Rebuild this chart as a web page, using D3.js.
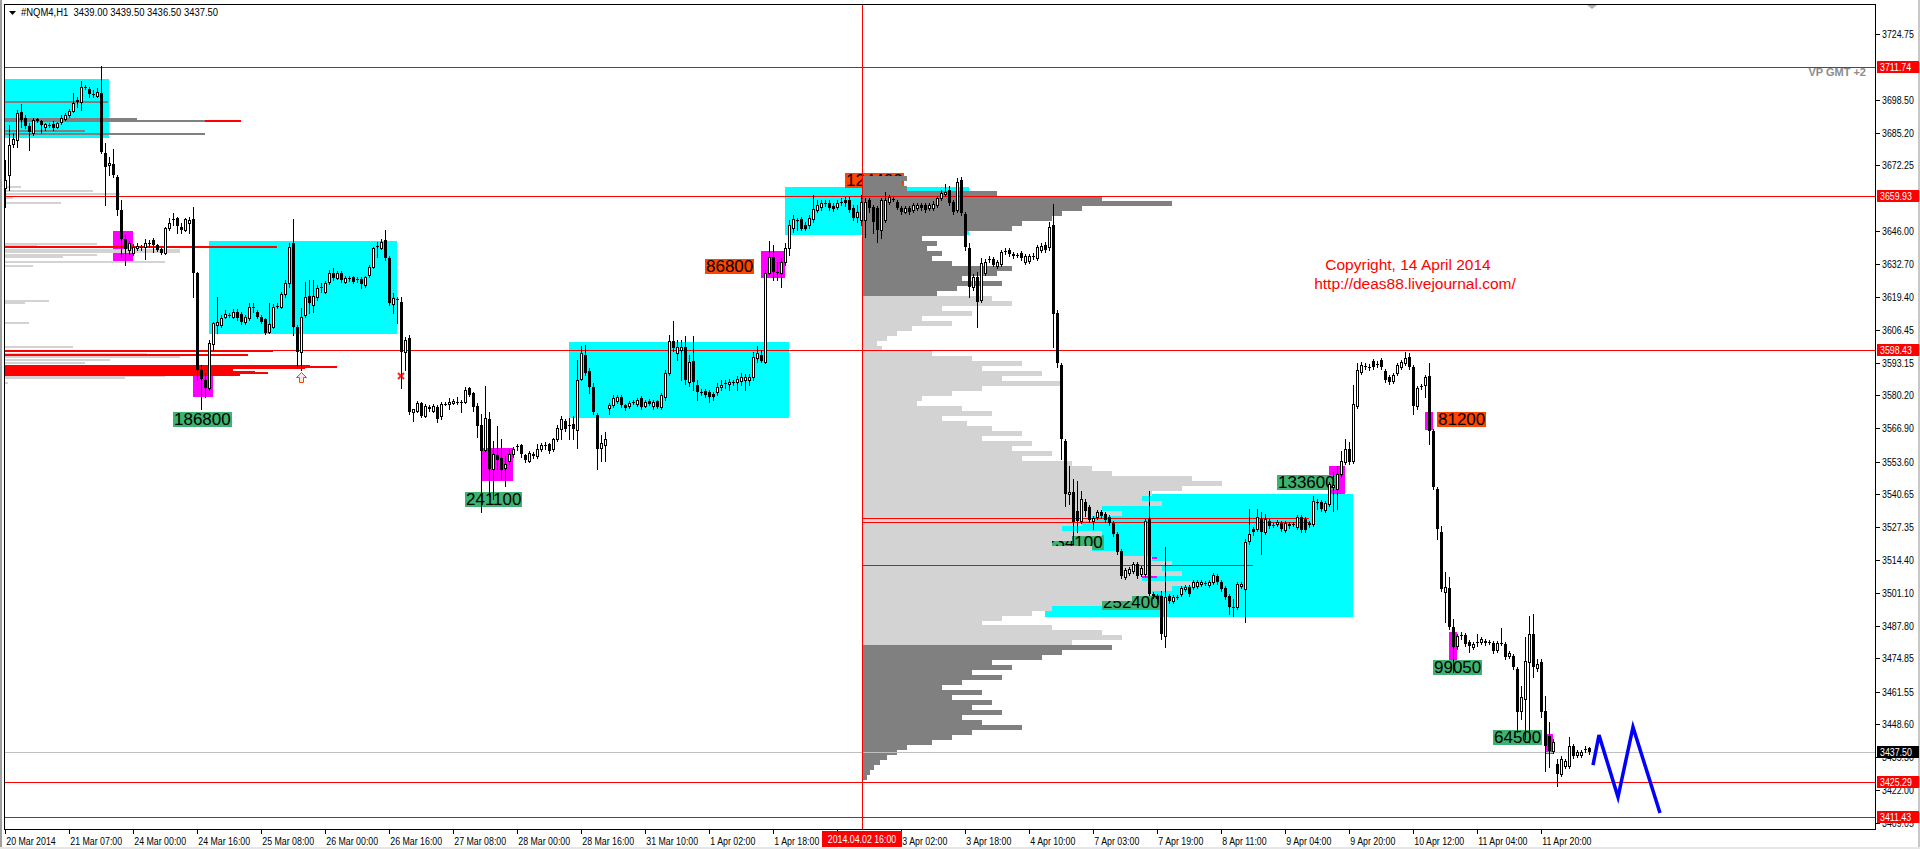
<!doctype html>
<html>
<head>
<meta charset="utf-8">
<title>#NQM4,H1</title>
<style>
  html, body { margin: 0; padding: 0; background: #fff; }
  svg { display: block; }
</style>
</head>
<body>
<div id="vis"></div>
<script src="https://d3js.org/d3.v7.min.js"></script>
<script>
var width = 1920, height = 849;
var frame = { left: 4, top: 4, right: 1875, bottom: 829 };
var textFont = "'Liberation Sans', Arial, sans-serif";
var squeeze = 0.8;

var header = '#NQM4,H1  3439.00 3439.50 3436.50 3437.50';

// hourly candles [open, high, low, close]
var candles = [
[3663.3,3674.5,3655.7,3666.5],[3668.5,3688.5,3662.5,3680.5],[3680.9,3685.3,3679.7,3682.9],[3682.5,3694.5,3679.7,3693.3],
[3693.7,3696.9,3687.7,3690.5],[3691.3,3692.5,3687.3,3688.1],[3688.1,3689.3,3678.5,3685.7],[3685.3,3691.3,3684.5,3690.5],
[3690.9,3691.3,3689.7,3690.1],[3690.1,3690.5,3685.3,3688.5],[3687.7,3689.3,3686.5,3688.9],[3688.5,3689.3,3687.7,3688.5],
[3688.9,3690.1,3686.5,3687.3],[3687.7,3689.7,3687.3,3689.3],[3689.7,3692.5,3688.9,3691.3],[3690.9,3693.3,3690.5,3692.5],
[3692.5,3694.9,3691.7,3694.1],[3694.1,3701.3,3693.7,3697.3],[3698.5,3699.7,3695.7,3697.7],[3697.7,3706.1,3694.5,3703.7],
[3703.7,3704.5,3702.9,3703.3],[3702.9,3703.7,3699.7,3700.9],[3700.9,3702.5,3699.7,3700.9],[3700.1,3703.3,3699.7,3701.7],
[3701.3,3712.1,3677.3,3677.7],[3677.3,3681.3,3656.5,3671.7],[3672.5,3675.7,3668.5,3673.3],[3672.9,3678.9,3667.7,3668.5],
[3667.7,3668.5,3652.5,3654.5],[3654.5,3658.5,3635.7,3642.9],[3642.9,3644.5,3632.5,3638.9],[3638.5,3642.1,3636.9,3641.3],
[3637.3,3640.9,3636.5,3639.7],[3639.3,3641.3,3638.5,3640.1],[3639.7,3640.5,3638.5,3639.7],[3639.7,3642.9,3634.9,3641.3],
[3641.3,3642.5,3639.7,3641.3],[3642.5,3643.3,3637.7,3640.5],[3640.5,3640.9,3638.1,3638.5],[3638.9,3639.3,3636.9,3637.3],
[3637.3,3647.7,3636.9,3647.3],[3647.3,3651.3,3646.5,3649.3],[3650.9,3653.3,3648.5,3650.9],[3651.3,3651.7,3645.3,3648.1],
[3647.7,3649.3,3645.3,3646.5],[3646.5,3651.3,3646.1,3650.9],[3649.3,3651.7,3645.3,3650.5],[3650.9,3655.7,3619.7,3629.3],
[3629.3,3629.7,3586.5,3590.5],[3590.5,3592.5,3574.5,3586.9],[3586.5,3589.3,3579.7,3583.3],[3583.3,3602.5,3582.5,3601.3],
[3600.9,3609.7,3598.5,3609.3],[3608.5,3619.7,3605.3,3609.7],[3608.5,3612.5,3607.7,3611.3],[3611.7,3614.5,3611.3,3612.9],
[3612.5,3613.3,3611.7,3612.5],[3611.7,3614.9,3611.3,3613.7],[3613.7,3614.9,3610.5,3611.3],[3612.9,3613.7,3608.9,3609.7],
[3609.7,3612.5,3608.9,3611.7],[3611.3,3617.3,3610.5,3615.7],[3615.7,3617.3,3613.7,3615.7],[3613.7,3614.5,3611.3,3611.7],
[3611.7,3612.5,3609.3,3609.7],[3610.9,3611.3,3604.9,3605.3],[3605.7,3617.3,3605.3,3608.9],[3607.7,3616.9,3607.3,3615.7],
[3616.1,3617.3,3615.3,3616.1],[3615.7,3621.7,3615.3,3620.9],[3620.9,3626.5,3619.7,3625.3],[3625.3,3641.3,3623.7,3639.7],
[3641.3,3650.9,3604.5,3607.7],[3607.7,3608.5,3591.3,3597.7],[3597.7,3615.3,3590.5,3611.7],[3612.5,3625.7,3611.7,3619.7],
[3620.1,3626.5,3613.3,3617.3],[3616.5,3626.5,3613.7,3620.1],[3619.7,3624.5,3618.5,3623.3],[3623.7,3625.3,3621.7,3623.7],
[3621.7,3626.1,3621.3,3625.3],[3625.7,3630.5,3624.9,3629.3],[3629.3,3631.3,3626.5,3627.3],[3627.3,3630.1,3626.9,3629.3],
[3629.3,3630.1,3625.7,3626.5],[3625.7,3628.1,3625.3,3627.3],[3627.3,3628.1,3626.1,3627.3],[3627.7,3628.1,3625.3,3625.7],
[3626.9,3627.7,3625.7,3626.9],[3626.9,3627.7,3623.3,3624.9],[3624.5,3628.1,3623.7,3627.7],[3628.5,3632.5,3627.7,3631.7],
[3631.7,3639.7,3631.3,3639.3],[3640.1,3641.7,3635.7,3640.1],[3639.3,3642.9,3638.9,3641.7],[3642.5,3646.5,3634.5,3635.3],
[3635.3,3636.1,3616.5,3617.3],[3616.9,3621.3,3613.3,3619.3],[3618.9,3619.7,3609.3,3618.9],[3617.7,3619.7,3583.3,3597.7],
[3597.7,3603.7,3590.5,3602.5],[3603.3,3604.5,3572.5,3573.3],[3573.3,3574.5,3569.7,3574.5],[3573.7,3578.1,3573.3,3577.3],
[3577.3,3577.7,3571.3,3571.7],[3571.7,3576.5,3571.3,3575.7],[3575.3,3576.1,3573.7,3574.5],[3573.7,3576.5,3573.3,3575.7],
[3575.3,3576.1,3569.3,3570.5],[3571.7,3577.7,3570.5,3576.5],[3576.9,3577.7,3576.1,3576.9],[3576.9,3579.3,3574.5,3577.7],
[3577.3,3578.9,3576.5,3578.1],[3577.7,3579.7,3576.5,3577.7],[3577.7,3578.5,3573.3,3577.7],[3577.7,3583.7,3577.3,3582.5],
[3583.3,3583.7,3580.1,3580.5],[3581.3,3581.7,3573.7,3575.3],[3575.7,3577.3,3563.3,3567.7],[3568.1,3572.5,3533.3,3557.7],
[3558.1,3584.1,3557.7,3570.9],[3570.5,3573.3,3539.7,3550.5],[3550.5,3561.7,3538.5,3556.5],[3556.1,3567.7,3550.5,3554.1],
[3554.9,3562.5,3546.5,3550.1],[3550.9,3555.7,3543.7,3552.5],[3553.7,3558.5,3552.5,3556.5],[3556.5,3559.3,3555.3,3558.5],
[3559.7,3560.5,3558.1,3559.7],[3560.1,3560.5,3555.3,3556.5],[3556.1,3556.5,3553.3,3554.1],[3553.7,3557.7,3553.3,3556.9],
[3556.5,3557.3,3554.9,3555.7],[3555.7,3560.5,3554.9,3558.5],[3558.5,3560.9,3557.7,3560.1],[3560.1,3561.3,3558.5,3560.1],
[3560.5,3560.9,3556.9,3557.7],[3558.5,3562.9,3557.7,3562.5],[3562.5,3568.1,3561.7,3566.9],[3566.5,3571.7,3562.5,3570.5],
[3569.7,3570.5,3565.7,3566.5],[3568.1,3570.9,3562.5,3568.1],[3568.5,3571.7,3562.5,3566.5],[3566.1,3594.5,3558.9,3586.5],
[3586.9,3600.1,3586.5,3597.3],[3596.5,3600.5,3588.5,3589.3],[3590.1,3591.3,3581.3,3583.7],[3583.7,3585.3,3572.5,3573.3],
[3572.1,3572.9,3550.5,3558.5],[3558.9,3564.1,3553.7,3560.9],[3560.1,3565.3,3553.7,3562.5],[3574.9,3577.3,3572.5,3576.1],
[3576.1,3580.5,3575.3,3579.3],[3578.1,3580.5,3577.3,3579.7],[3579.7,3580.5,3575.3,3576.1],[3576.1,3576.9,3574.1,3574.9],
[3575.7,3578.1,3574.9,3577.3],[3577.7,3578.5,3576.5,3577.7],[3576.5,3579.3,3575.7,3578.5],[3579.3,3580.1,3574.5,3575.3],
[3575.7,3578.5,3575.3,3577.7],[3578.1,3578.9,3576.1,3576.9],[3575.7,3578.5,3574.5,3577.7],[3578.1,3578.5,3574.9,3575.3],
[3575.3,3581.3,3574.5,3580.5],[3579.7,3590.5,3578.5,3589.3],[3589.3,3604.5,3588.5,3602.1],[3602.1,3610.1,3598.1,3599.3],
[3597.3,3602.5,3594.5,3599.7],[3598.5,3602.5,3586.5,3599.7],[3599.7,3604.1,3584.9,3586.5],[3585.7,3596.5,3584.1,3593.7],
[3594.1,3604.1,3582.5,3585.7],[3584.5,3586.5,3578.5,3581.7],[3581.7,3582.9,3580.5,3581.7],[3582.1,3582.9,3579.7,3580.5],
[3581.7,3582.5,3577.7,3579.7],[3580.9,3581.7,3578.5,3579.7],[3581.7,3585.3,3580.5,3583.7],[3583.7,3586.5,3582.5,3584.5],
[3585.3,3586.5,3583.3,3585.3],[3584.9,3586.9,3582.5,3585.7],[3585.7,3586.5,3584.5,3585.7],[3585.7,3588.1,3582.5,3586.9],
[3586.1,3589.3,3584.5,3587.7],[3586.5,3588.9,3582.5,3587.7],[3586.5,3588.9,3584.5,3587.7],[3587.7,3597.7,3586.5,3595.7],
[3595.3,3600.1,3593.7,3597.3],[3596.5,3598.5,3593.7,3594.1],[3593.7,3630.5,3593.3,3629.3],[3629.3,3642.1,3628.5,3635.7],
[3635.7,3640.5,3626.5,3629.7],[3629.7,3633.7,3626.5,3629.3],[3629.3,3635.3,3623.7,3633.7],[3633.7,3641.3,3632.5,3639.3],
[3639.3,3650.5,3636.5,3648.5],[3647.3,3652.5,3645.7,3650.9],[3650.5,3651.3,3646.5,3650.5],[3650.9,3651.7,3646.5,3646.9],
[3648.5,3649.7,3646.5,3646.9],[3648.5,3652.5,3647.3,3651.3],[3650.9,3660.5,3649.7,3654.9],[3654.5,3658.5,3653.7,3656.5],
[3655.7,3658.5,3654.5,3657.3],[3657.3,3658.5,3656.1,3657.3],[3657.3,3658.5,3654.5,3655.3],[3656.1,3657.3,3654.1,3654.9],
[3655.7,3658.5,3654.9,3657.3],[3657.7,3659.3,3656.5,3657.7],[3658.5,3659.7,3656.1,3657.3],[3658.5,3659.7,3653.7,3654.5],
[3655.3,3656.5,3650.5,3651.3],[3651.7,3656.5,3649.7,3653.7],[3650.5,3660.5,3648.5,3657.7],[3650.5,3659.3,3643.7,3657.7],
[3658.5,3659.3,3653.7,3655.3],[3655.7,3656.5,3645.3,3649.7],[3655.3,3656.1,3641.7,3646.5],[3646.5,3659.3,3643.3,3658.5],
[3650.5,3661.7,3649.7,3658.5],[3657.7,3660.5,3656.9,3659.7],[3658.9,3659.7,3658.1,3658.9],[3657.7,3658.5,3654.9,3655.3],
[3655.3,3656.1,3652.9,3653.7],[3653.7,3656.1,3653.3,3655.3],[3655.3,3656.1,3652.9,3653.7],[3654.5,3657.3,3653.7,3656.5],
[3655.3,3657.3,3654.5,3656.5],[3656.5,3657.3,3654.5,3655.3],[3656.5,3657.3,3653.7,3654.5],[3655.3,3657.3,3654.5,3656.5],
[3655.3,3658.1,3654.5,3656.9],[3656.5,3660.1,3655.7,3659.3],[3659.3,3662.5,3658.5,3661.3],[3660.9,3664.9,3660.1,3661.7],
[3662.5,3664.1,3656.5,3657.3],[3657.7,3658.5,3652.9,3653.7],[3654.5,3667.3,3653.7,3665.7],[3666.5,3667.7,3652.5,3653.3],
[3652.9,3653.7,3638.5,3639.7],[3639.3,3641.3,3619.7,3623.7],[3623.7,3628.9,3622.5,3627.7],[3627.7,3629.7,3607.7,3617.7],
[3618.5,3635.3,3617.7,3633.3],[3629.3,3634.9,3628.5,3633.7],[3634.9,3636.1,3633.7,3634.9],[3634.9,3635.7,3632.1,3632.5],
[3632.1,3634.5,3631.3,3633.7],[3632.9,3638.5,3632.1,3637.7],[3638.1,3639.3,3636.9,3638.1],[3638.5,3639.3,3636.1,3636.9],
[3636.9,3637.7,3635.3,3636.1],[3636.5,3637.3,3635.7,3636.5],[3637.3,3638.1,3634.5,3635.3],[3633.7,3636.9,3632.9,3636.1],
[3634.1,3636.9,3633.3,3636.1],[3636.1,3637.3,3634.9,3636.1],[3635.3,3640.5,3634.5,3639.7],[3638.5,3641.3,3637.7,3640.1],
[3640.5,3641.7,3637.7,3638.5],[3639.7,3649.7,3638.5,3647.7],[3648.5,3656.9,3599.7,3612.9],[3613.3,3614.5,3591.7,3593.3],
[3592.5,3593.3,3554.5,3562.5],[3561.7,3562.5,3535.7,3540.5],[3540.5,3551.7,3536.5,3541.3],[3541.3,3546.5,3520.5,3529.3],
[3533.7,3545.7,3525.3,3529.7],[3529.7,3541.7,3528.9,3538.5],[3537.3,3538.5,3531.7,3533.7],[3535.3,3536.1,3529.3,3530.1],
[3529.7,3531.7,3526.5,3530.9],[3531.3,3534.1,3530.5,3533.3],[3533.3,3534.1,3530.9,3531.7],[3532.5,3533.3,3529.3,3530.1],
[3531.3,3532.1,3528.1,3528.9],[3528.9,3529.7,3523.7,3524.5],[3524.5,3525.3,3516.5,3517.3],[3517.7,3518.5,3506.9,3507.7],
[3507.3,3510.9,3506.5,3510.1],[3508.9,3511.3,3508.1,3510.5],[3509.7,3513.3,3508.9,3512.5],[3512.5,3513.3,3506.9,3507.7],
[3508.5,3511.7,3507.7,3510.9],[3508.5,3530.5,3507.7,3529.7],[3530.5,3541.7,3500.1,3500.5],[3500.5,3501.3,3498.9,3499.7],
[3499.7,3500.5,3497.3,3498.5],[3499.7,3501.7,3482.5,3484.5],[3483.7,3519.3,3479.3,3499.3],[3499.7,3500.5,3496.9,3497.7],
[3497.7,3500.1,3496.9,3499.3],[3499.3,3500.1,3498.5,3499.3],[3500.5,3503.7,3499.7,3502.9],[3502.5,3504.1,3501.7,3503.3],
[3503.3,3504.1,3499.7,3500.5],[3503.3,3506.1,3502.5,3505.3],[3503.7,3506.1,3502.9,3505.3],[3504.5,3506.1,3503.7,3505.3],
[3504.9,3505.7,3504.1,3504.9],[3504.1,3506.1,3503.3,3505.3],[3505.3,3508.9,3504.5,3508.1],[3507.7,3508.5,3504.5,3505.3],
[3505.3,3506.1,3501.7,3502.5],[3502.9,3503.7,3498.5,3499.3],[3499.7,3500.5,3492.5,3495.3],[3495.3,3498.5,3491.7,3495.3],
[3495.3,3505.3,3494.5,3504.5],[3503.7,3505.3,3502.9,3504.5],[3502.5,3522.5,3489.3,3521.3],[3521.7,3534.5,3520.5,3524.5],
[3526.5,3527.3,3524.1,3525.3],[3526.5,3534.5,3525.7,3531.3],[3530.5,3533.3,3516.5,3525.3],[3525.3,3532.5,3524.5,3530.5],
[3529.7,3530.5,3526.9,3527.7],[3528.1,3528.9,3527.3,3528.1],[3528.5,3530.1,3527.7,3529.3],[3528.9,3529.7,3525.7,3526.5],
[3526.1,3529.7,3525.3,3528.9],[3528.5,3529.3,3526.9,3527.7],[3528.5,3529.3,3527.7,3528.5],[3527.3,3532.1,3526.5,3531.3],
[3531.3,3532.1,3525.3,3526.1],[3530.5,3531.3,3525.3,3526.1],[3528.9,3529.7,3527.3,3528.1],[3528.5,3539.7,3527.7,3537.7],
[3537.3,3538.5,3534.5,3537.3],[3537.3,3538.1,3533.7,3534.5],[3534.1,3537.7,3533.3,3536.9],[3536.5,3545.3,3535.7,3544.5],
[3543.3,3549.3,3533.7,3544.1],[3542.5,3551.7,3534.5,3548.5],[3548.5,3557.7,3547.3,3553.7],[3553.3,3562.5,3552.5,3558.5],
[3558.5,3561.3,3552.5,3553.3],[3553.7,3584.5,3552.9,3576.5],[3575.7,3593.3,3574.9,3590.5],[3589.7,3593.7,3588.9,3592.5],
[3592.1,3593.3,3590.9,3592.1],[3591.7,3592.9,3590.5,3591.7],[3594.1,3594.9,3590.9,3591.7],[3592.9,3594.1,3591.7,3592.9],
[3594.5,3595.3,3590.9,3591.7],[3590.1,3590.9,3585.7,3586.5],[3587.7,3588.5,3584.9,3585.7],[3586.1,3589.3,3585.3,3588.5],
[3589.3,3593.3,3588.5,3592.5],[3591.7,3594.5,3590.9,3593.7],[3593.3,3597.7,3592.5,3595.3],[3595.7,3597.3,3590.9,3591.7],
[3591.7,3592.5,3572.5,3575.7],[3575.7,3584.1,3574.5,3583.3],[3584.1,3584.9,3582.9,3584.1],[3584.5,3588.5,3579.7,3587.7],
[3588.1,3593.3,3560.5,3565.7],[3565.7,3566.5,3542.5,3543.3],[3542.5,3543.3,3522.5,3526.5],[3525.3,3527.7,3501.7,3502.5],
[3501.3,3509.3,3489.3,3503.3],[3502.9,3507.3,3486.5,3487.3],[3487.3,3490.5,3469.3,3479.3],[3479.7,3484.5,3478.5,3483.7],
[3484.1,3485.3,3482.5,3484.1],[3484.1,3484.9,3479.7,3480.5],[3481.3,3482.1,3477.3,3479.7],[3479.3,3481.3,3478.5,3480.5],
[3481.3,3484.5,3479.7,3481.3],[3481.3,3483.3,3480.5,3482.5],[3481.7,3482.5,3480.1,3480.9],[3481.3,3482.1,3480.5,3481.3],
[3480.9,3481.7,3476.9,3477.7],[3478.1,3481.7,3477.3,3480.9],[3480.9,3486.9,3480.1,3480.9],[3480.5,3481.3,3474.5,3475.3],
[3475.7,3477.7,3474.9,3476.9],[3475.7,3476.5,3470.5,3471.3],[3470.5,3471.3,3445.3,3453.3],[3453.7,3463.7,3450.5,3459.3],
[3458.5,3483.3,3442.5,3473.7],[3473.3,3491.7,3441.3,3484.5],[3484.5,3492.5,3467.3,3471.3],[3470.9,3474.5,3469.7,3472.5],
[3473.3,3474.5,3451.3,3453.3],[3453.7,3459.7,3429.7,3439.7],[3443.7,3449.3,3431.3,3437.7],[3437.7,3442.5,3436.9,3441.3],
[3432.5,3434.5,3423.7,3428.5],[3428.5,3435.7,3427.7,3434.5],[3431.7,3434.5,3430.9,3433.7],[3431.7,3443.3,3430.9,3439.7],
[3439.7,3440.5,3434.9,3435.7],[3436.1,3438.1,3435.3,3437.3],[3436.1,3438.1,3435.3,3437.3],[3438.5,3439.7,3437.3,3438.5],
[3439.0,3439.5,3436.5,3437.5]
];

var timeLabels = ['20 Mar 2014','21 Mar 07:00','24 Mar 00:00','24 Mar 16:00','25 Mar 08:00','26 Mar 00:00',
  '26 Mar 16:00','27 Mar 08:00','28 Mar 00:00','28 Mar 16:00','31 Mar 10:00','1 Apr 02:00','1 Apr 18:00',
  '2 Apr 10:00','3 Apr 02:00','3 Apr 18:00','4 Apr 10:00','7 Apr 03:00','7 Apr 19:00','8 Apr 11:00',
  '9 Apr 04:00','9 Apr 20:00','10 Apr 12:00','11 Apr 04:00','11 Apr 20:00'];
var barsPerLabel = 16;

var priceTicks = [3724.75,3698.50,3685.20,3672.25,3646.00,3632.70,3619.40,3606.45,3593.15,3580.20,3566.90,
  3553.60,3540.65,3527.35,3514.40,3501.10,3487.80,3474.85,3461.55,3448.60,3435.30,3422.00,3409.05];

var levelLines = [3711.74, 3659.93, 3598.43, 3425.29, 3411.43];
var bid = 3437.50;

var crossBar = 214.25;
var crossLabel = '2014.04.02 16:00';

// zones: [startBar, endBar, high, low]
var cyanZones = [[0,26,3706.9,3683.3],[51,98,3642.1,3604.9],[141,196,3601.7,3570.9],[195,241,3663.7,3644.5],[260,337,3540.5,3491.3]];
var magentaZones = [[27,32,3646.1,3634.1],[47,52,3589.3,3579.7],[119.25,127,3558.9,3545.7],[189,195,3638.1,3627.3],
  [331,335,3551.7,3540.5],[355,357,3573.3,3566.1],[361,363,3485.3,3473.3],[385.25,387,3444.5,3436.5]];
var magentaTicks = [[3533.7,268,273],[3515.3,282,288],[3509.7,282,288],[3507.7,283,288],[3505.3,282,288]];

// volume tags: [text, bar, price]
var greenTags = [['186800',42,3570.5],['241100',115,3538.7],['133600',318,3545.3],['99050',357,3471.5],
  ['64500',372,3443.5],['252400',274.25,3497.5],['234100',260,3521.3]];
var orangeTags = [['86800',175,3631.9],['124400',210,3666.3],['81200',358,3570.7]];

// session volume profile from the crosshair, 2-point levels from the top down
var profileTop = 3666, profileStep = 2;
var vaHigh = 3620, vaLow = 3480;
var profileVol = [45,40,45,135,240,310,220,200,190,160,150,105,60,75,65,80,70,90,150,135,100,140,95,75,
  130,150,80,110,60,90,50,35,25,15,20,70,110,160,120,180,140,200,120,90,60,55,100,130,80,105,130,160,120,170,
  150,190,160,210,230,250,330,360,320,290,280,300,240,260,230,220,200,240,210,190,230,260,290,310,300,320,
  280,330,310,290,270,240,190,170,140,120,190,240,260,210,
  250,200,180,130,150,110,140,100,80,120,90,130,110,140,100,120,160,110,90,70,45,35,25,18,12,8,5];
// lines of the profile: [price, endBar]
var profileLines = [[3530.9,326],[3529.3,326],[3512.1,312]];

// older profile on the left edge: [price, volume]
var leftLight = [[3663.5,16],[3662.1,88],[3660.9,115],[3659.3,8],[3657.3,56],[3640.9,92],[3640.1,32],[3638.5,175],
  [3637.7,175],[3636.5,92],[3635.7,58],[3633.7,160],[3632.1,28],[3618.1,44],[3617.3,20],[3609.3,24],[3599.7,68],
  [3596.9,142],[3595.7,175],[3594.5,105],[3593.3,80],[3588.1,160],[3587.3,120],[3585.3,3]];
var leftDark = [[3697.7,103],[3690.9,132],[3690.1,200],[3686.1,80],[3684.9,200]];
var leftRed = [[3690.1,236],[3639.7,272],[3598.1,268],[3596.5,243],[3592.1,305],[3591.7,332],[3591.3,300],
  [3590.5,228],[3589.7,250],[3589.3,263],[3588.5,235]];

var upArrow = [74, 3587.5];
var crossMark = [99, 3588];

var zigBars = [397, 398.5, 403.25, 407, 413.75];
var zigPrices = [3432.1, 3444.1, 3419.3, 3447.3, 3412.9];

var x = d3.scaleLinear().domain([0, 400]).range([5, 1605]);
var y = d3.scaleLinear().domain([3411.43, 3724.75]).range([816.7, 34.3]);
var vol = d3.scaleLinear().domain([0, 400]).range([0, 400]);

var svg = d3.select('#vis').append('svg')
  .attr('width', width).attr('height', height)
  .attr('shape-rendering', 'crispEdges');

svg.append('rect').attr('width', width).attr('height', height).attr('fill', '#fff');
svg.append('rect').attr('x', 0).attr('y', 0).attr('width', 2).attr('height', height).attr('fill', '#a0a0a0');
svg.append('rect').attr('x', 1918).attr('y', 0).attr('width', 2).attr('height', height).attr('fill', '#c8c8c8');
svg.append('rect').attr('x', 0).attr('y', 847).attr('width', width).attr('height', 2).attr('fill', '#e6e6e6');

svg.append('clipPath').attr('id', 'clip').append('rect')
  .attr('x', frame.left + 1).attr('y', frame.top + 1)
  .attr('width', frame.right - frame.left - 1).attr('height', frame.bottom - frame.top - 1);

var plot = svg.append('g').attr('clip-path', 'url(#clip)');
var px = function(v){ return Math.round(v); };

// narrow terminal font: Liberation Sans squeezed horizontally
function smallText(parent, tx, ty, str, color, anchor){
  return parent.append('text')
    .attr('transform', 'translate(' + tx + ',' + ty + ') scale(' + squeeze + ',1)')
    .attr('text-anchor', anchor || 'start')
    .attr('font-family', textFont).attr('font-size', 11).attr('fill', color)
    .text(str);
}

function zoneRects(list, color){
  plot.append('g').selectAll('rect').data(list).enter().append('rect')
    .attr('x', function(d){ return px(x(d[0])); })
    .attr('y', function(d){ return px(y(d[2])); })
    .attr('width', function(d){ return px(x(d[1])) - px(x(d[0])); })
    .attr('height', function(d){ return px(y(d[3])) - px(y(d[2])); })
    .attr('fill', color);
}
zoneRects(cyanZones, '#00ffff');
zoneRects(magentaZones, '#ff00ff');

plot.append('g').selectAll('rect').data(magentaTicks).enter().append('rect')
  .attr('x', function(d){ return px(x(d[1])); })
  .attr('y', function(d){ return px(y(d[0])); })
  .attr('width', function(d){ return px(x(d[2])) - px(x(d[1])); })
  .attr('height', 2).attr('fill', '#ff00ff');

// volume tags
function drawTags(list, color){
  list.forEach(function(t){
    var g = plot.append('g');
    var cy = px(y(t[2]));
    var label = g.append('text')
      .attr('x', px(x(t[1])) + 1).attr('y', cy + 6)
      .attr('font-family', textFont).attr('font-size', 17).attr('fill', '#000')
      .text(t[0]);
    var w = label.node().getComputedTextLength();
    g.insert('rect', 'text')
      .attr('x', px(x(t[1]))).attr('y', cy - 7)
      .attr('width', Math.round(w) + 2).attr('height', 15)
      .attr('fill', color);
  });
}
drawTags(greenTags, '#3cb371');
drawTags(orangeTags, '#ff4500');

// left profile
function leftRows(list, color){
  plot.append('g').selectAll('rect').data(list).enter().append('rect')
    .attr('x', px(x(0)))
    .attr('y', function(d){ return px(y(d[0])) - 1; })
    .attr('width', function(d){ return px(vol(d[1])); })
    .attr('height', 2)
    .attr('fill', color);
}
leftRows(leftLight, '#d3d3d3');
leftRows(leftRed, '#ff0000');
leftRows(leftDark, '#808080');

// session profile
var x0 = px(x(crossBar));
plot.append('g').selectAll('rect').data(profileVol).enter().append('rect')
  .attr('x', x0)
  .attr('y', function(d, k){ return px(y(profileTop - k * profileStep + profileStep)); })
  .attr('width', function(d){ return px(vol(d)); })
  .attr('height', function(d, k){
    var lv = profileTop - k * profileStep;
    return px(y(lv)) - px(y(lv + profileStep));
  })
  .attr('fill', function(d, k){
    var lv = profileTop - k * profileStep;
    return (lv >= vaHigh || lv < vaLow) ? '#808080' : '#d3d3d3';
  });

plot.append('g').selectAll('line').data(profileLines).enter().append('line')
  .attr('x1', x0).attr('x2', function(d){ return px(x(d[1])); })
  .attr('y1', function(d){ return px(y(d[0])) + 0.5; })
  .attr('y2', function(d){ return px(y(d[0])) + 0.5; })
  .attr('stroke', '#ff0000');

// horizontal levels and bid line
plot.append('line')
  .attr('x1', frame.left).attr('x2', frame.right)
  .attr('y1', px(y(bid)) + 0.5).attr('y2', px(y(bid)) + 0.5)
  .attr('stroke', '#c0c0c0');
plot.append('g').selectAll('line').data(levelLines).enter().append('line')
  .attr('x1', frame.left).attr('x2', frame.right)
  .attr('y1', function(d){ return px(y(d)) + 0.5; })
  .attr('y2', function(d){ return px(y(d)) + 0.5; })
  .attr('stroke', '#ff0000');

// crosshair
plot.append('line')
  .attr('x1', x0 + 0.5).attr('x2', x0 + 0.5)
  .attr('y1', frame.top).attr('y2', frame.bottom)
  .attr('stroke', '#ff0000');

// small markers
var ax = px(x(upArrow[0])), ay = px(y(upArrow[1])) - 5;
plot.append('path')
  .attr('d', 'M' + (ax + 0.5) + ',' + (ay + 0.5) + 'l5,5h-3v5h-4v-5h-3z')
  .attr('fill', '#ffe4e1').attr('stroke', '#ff4000').attr('shape-rendering', 'auto');
var cx = px(x(crossMark[0])), cyy = px(y(crossMark[1]));
plot.append('path')
  .attr('d', 'M' + (cx - 3) + ',' + (cyy - 3) + 'l6,6M' + (cx + 3) + ',' + (cyy - 3) + 'l-6,6')
  .attr('stroke', '#ff2020').attr('stroke-width', 2).attr('shape-rendering', 'auto');

// candles
var bars = plot.append('g').selectAll('g').data(candles).enter().append('g');
bars.append('line')
  .attr('x1', function(d, i){ return x(i) + 0.5; })
  .attr('x2', function(d, i){ return x(i) + 0.5; })
  .attr('y1', function(d){ return px(y(d[1])); })
  .attr('y2', function(d){ return px(y(d[2])) + 1; })
  .attr('stroke', '#000');
bars.append('rect')
  .each(function(d, i){
    var top = px(y(Math.max(d[0], d[3]))), bot = px(y(Math.min(d[0], d[3])));
    var r = d3.select(this);
    if (bot - top < 2) {
      r.attr('x', x(i) - 1).attr('y', top).attr('width', 3).attr('height', Math.max(bot - top, 1)).attr('fill', '#000');
    } else if (d[3] > d[0]) {
      r.attr('x', x(i) - 0.5).attr('y', top + 0.5).attr('width', 2).attr('height', bot - top)
        .attr('fill', '#fff').attr('stroke', '#000');
    } else {
      r.attr('x', x(i) - 1).attr('y', top).attr('width', 3).attr('height', bot - top).attr('fill', '#000');
    }
  });

// forecast zigzag
plot.append('path')
  .datum(zigBars.map(function(b, k){ return [x(b), y(zigPrices[k])]; }))
  .attr('d', d3.line())
  .attr('fill', 'none').attr('stroke', '#0000ff').attr('stroke-width', 3.5)
  .attr('shape-rendering', 'auto');

// texts on chart
svg.append('text').attr('x', 1408).attr('y', 270).attr('text-anchor', 'middle')
  .attr('font-family', textFont).attr('font-size', 15.5).attr('fill', '#ff0000')
  .text('Copyright, 14 April 2014');
svg.append('text').attr('x', 1415).attr('y', 289).attr('text-anchor', 'middle')
  .attr('font-family', textFont).attr('font-size', 15.5).attr('fill', '#ff0000')
  .text('http://deas88.livejournal.com/');
svg.append('text').attr('x', 1866).attr('y', 76).attr('text-anchor', 'end')
  .attr('font-family', textFont).attr('font-size', 11).attr('font-weight', 'bold').attr('fill', '#8c8c8c')
  .text('VP GMT +2');

svg.append('path').attr('d', 'M9,11h7l-3.5,4z').attr('fill', '#000').attr('shape-rendering', 'auto');
svg.append('text')
  .attr('transform', 'translate(21,16) scale(0.86,1)')
  .attr('font-family', textFont).attr('font-size', 11).attr('fill', '#000')
  .attr('xml:space', 'preserve').style('white-space', 'pre')
  .text(header);
svg.append('path').attr('d', 'M1587,5h10l-5,4z').attr('fill', '#b0b0b0').attr('shape-rendering', 'auto');

// frame
var fr = svg.append('g').attr('stroke', '#000');
fr.append('line').attr('x1', frame.left + 0.5).attr('x2', frame.left + 0.5).attr('y1', frame.top).attr('y2', frame.bottom + 1);
fr.append('line').attr('x1', frame.left).attr('x2', frame.right + 1).attr('y1', frame.top + 0.5).attr('y2', frame.top + 0.5);
fr.append('line').attr('x1', frame.right + 0.5).attr('x2', frame.right + 0.5).attr('y1', frame.top).attr('y2', frame.bottom + 1);
fr.append('line').attr('x1', frame.left).attr('x2', frame.right + 1).attr('y1', frame.bottom + 0.5).attr('y2', frame.bottom + 0.5);

// price axis
var yAxis = d3.axisRight(y).tickValues(priceTicks).tickFormat(d3.format('.2f')).tickSize(4).tickPadding(2);
var yg = svg.append('g').attr('transform', 'translate(' + (frame.right + 1) + ',0)').call(yAxis);
yg.select('.domain').remove();
yg.selectAll('text')
  .attr('x', 6 / squeeze).attr('transform', 'scale(' + squeeze + ',1)')
  .attr('font-family', textFont).attr('font-size', 11).attr('fill', '#000');

function priceBox(p, color){
  var cy = px(y(p));
  svg.append('rect').attr('x', frame.right + 2).attr('y', cy - 6).attr('width', 42).attr('height', 12).attr('fill', color);
  smallText(svg, frame.right + 5, cy + 4, d3.format('.2f')(p), '#fff');
}
levelLines.forEach(function(p){ priceBox(p, '#ff0000'); });
priceBox(bid, '#000');

// time axis
var xAxis = d3.axisBottom(x)
  .tickValues(timeLabels.map(function(t, k){ return k * barsPerLabel; }))
  .tickFormat(function(d, k){ return timeLabels[k]; })
  .tickSize(4).tickPadding(3);
var xg = svg.append('g').attr('transform', 'translate(0,' + (frame.bottom + 1) + ')').call(xAxis);
xg.select('.domain').remove();
xg.selectAll('text').attr('text-anchor', 'start').attr('dx', 1)
  .attr('transform', 'scale(' + squeeze + ',1)')
  .attr('font-family', textFont).attr('font-size', 11).attr('fill', '#000');

svg.append('rect').attr('x', x0 - 40).attr('y', frame.bottom + 2).attr('width', 80).attr('height', 16).attr('fill', '#ff0000');
smallText(svg, x0, frame.bottom + 14, crossLabel, '#fff', 'middle');
</script>
</body>
</html>
